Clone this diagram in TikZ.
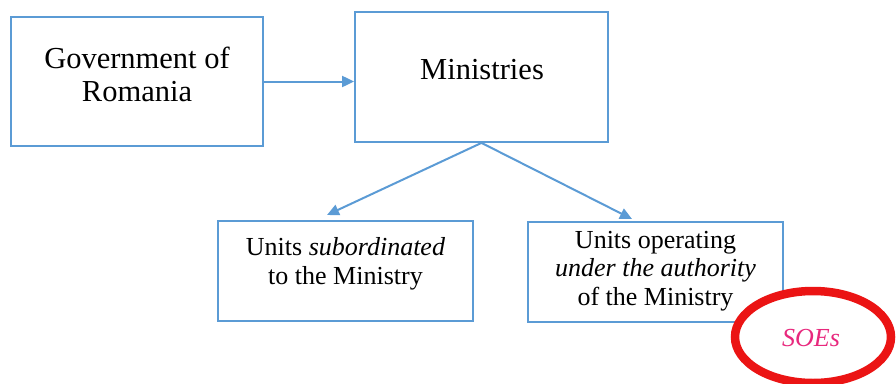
\documentclass[tikz,border=0pt]{standalone}
\usepackage{fontspec}
\setmainfont{Liberation Serif}
\usetikzlibrary{arrows.meta,shapes.geometric}
\definecolor{boxblue}{RGB}{91,155,213}
\definecolor{soered}{RGB}{235,20,20}
\definecolor{soepink}{RGB}{232,40,125}
\tikzset{
  orgbox/.style={draw=boxblue, line width=1.8pt, rectangle, inner sep=0pt},
  bigtext/.style={align=center, inner sep=0pt, font=\fontsize{30.5}{33}\selectfont},
  smalltext/.style={align=center, inner sep=0pt, font=\fontsize{26}{28.5}\selectfont},
  link/.style={draw=boxblue, line width=2pt, -{Triangle[length=12pt,width=11pt]}},
}
\begin{document}
\begin{tikzpicture}[x=1pt,y=-1pt]
\useasboundingbox (0,0) rectangle (896,383);
\node[orgbox, minimum width=252pt, minimum height=129pt] (gov) at (137,81.5) {};
\node[orgbox, minimum width=253pt, minimum height=130pt] (min) at (481.5,77) {};
\node[orgbox, minimum width=255pt, minimum height=100pt] (sub) at (345.5,271) {};
\node[orgbox, minimum width=255pt, minimum height=100pt] (auth) at (655.5,272) {};
\node[bigtext] (govt) at (137,74) {Government of\\Romania};
\node[bigtext] (mint) at (482,70) {Ministries};
\node[smalltext] (subt) at (345.5,264) {Units \textit{subordinated}\\to the Ministry};
\node[smalltext] (autht) at (655.5,271) {Units operating\\\textit{under the authority}\\of the Ministry};
\coordinate (tipsub) at (327,215);
\coordinate (tipauth) at (632,219);
\draw[link] (gov.east) -- (min.west |- gov.east);
\draw[link] (min.south) -- (tipsub);
\draw[link] (min.south) -- (tipauth);
\node[ellipse, draw=soered, fill=white, line width=8.5pt, minimum width=156pt, minimum height=92pt, inner sep=0pt] (soe) at (813,337) {};
\node[inner sep=0pt, text=soepink, font=\fontsize{26}{28}\selectfont\itshape] (soet) at (811,338) {SOEs};
\end{tikzpicture}
\end{document}
